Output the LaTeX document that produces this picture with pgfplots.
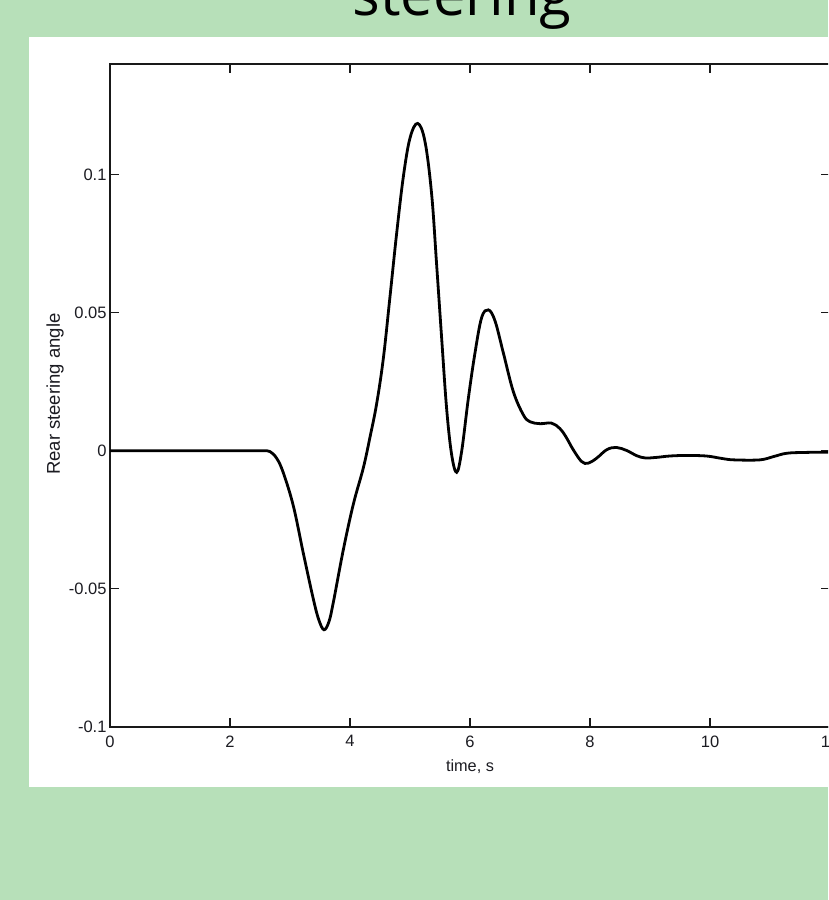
\documentclass[border=0pt]{standalone}
\usepackage{pgfplots}
\pgfplotsset{compat=1.18}
\usepackage{fontspec}
\setmainfont{Liberation Sans}
\newfontfamily\titlefont{Open Sans}
\definecolor{slidegreen}{HTML}{B7E0B9}
\definecolor{ticktext}{HTML}{1C1C22}
\pgfplotstableread{
x y
0 0
1 0
2 0
2.4 0
2.556 0
2.667 -0.0003
2.78 -0.0028
2.889 -0.0080
3.056 -0.0200
3.222 -0.0371
3.389 -0.0537
3.48 -0.0612
3.567 -0.0648
3.65 -0.0618
3.722 -0.0549
3.889 -0.0358
4.056 -0.0193
4.222 -0.0062
4.333 0.0049
4.444 0.0170
4.556 0.0335
4.667 0.0559
4.778 0.0788
4.889 0.0992
5.0 0.1132
5.128 0.1185
5.25 0.1119
5.361 0.0928
5.444 0.0673
5.528 0.0406
5.611 0.0151
5.694 -0.0014
5.778 -0.0078
5.861 -0.0002
5.972 0.0189
6.083 0.0354
6.194 0.0482
6.306 0.0510
6.417 0.0470
6.556 0.0354
6.722 0.0214
6.889 0.0130
7.0 0.0105
7.17 0.0098
7.36 0.0100
7.5 0.0080
7.6 0.0050
7.72 0.0004
7.86 -0.0039
7.97 -0.0045
8.11 -0.0027
8.28 0.0004
8.44 0.0012
8.61 0.0001
8.78 -0.0018
8.92 -0.0026
9.11 -0.0024
9.33 -0.0019
9.61 -0.0017
9.94 -0.0019
10.2 -0.0028
10.4 -0.0033
10.83 -0.0033
11.06 -0.0021
11.28 -0.0009
11.6 -0.0006
12 -0.0005
}\steerdata
\begin{document}
\begin{tikzpicture}
\useasboundingbox (0pt,0pt) rectangle (828pt,-900pt);
\clip (0pt,0pt) rectangle (828pt,-900pt);
\fill[slidegreen] (0pt,0pt) rectangle (828pt,-900pt);
\fill[white] (29pt,-37pt) rectangle (828pt,-787pt);
\node[anchor=base, font=\titlefont\fontsize{58pt}{62pt}\selectfont, text=black, inner sep=0pt] at (462pt,-15pt) {steering};
\begin{axis}[
  at={(110pt,-727pt)}, anchor=south west,
  scale only axis, width=720pt, height=663pt,
  xmin=0, xmax=12, ymin=-0.1, ymax=0.14,
  xtick={0,2,4,6,8,10,12},
  xticklabels={0,2,4,6,8,10,12},
  ytick={-0.1,-0.05,0,0.05,0.1},
  yticklabels={-0.1,-0.05,0,0.05,0.1},
  tick align=inside,
  major tick length=9pt,
  axis line style={line width=1.3pt, draw=black!90},
  every tick/.style={line width=1.1pt, black!90},
  ticklabel style={font=\fontsize{16.5pt}{18pt}\selectfont, text=ticktext},
  xticklabel style={yshift=-5pt},
  xlabel={time, s},
  ylabel={Rear steering angle},
  xlabel style={at={(axis description cs:0.5,0)}, anchor=north, yshift=-29pt, font=\fontsize{16.3pt}{18pt}\selectfont, text=ticktext},
  ylabel style={at={(axis description cs:-0.0764,0.502)}, anchor=center, font=\fontsize{18.5pt}{20pt}\selectfont, text=ticktext},
  clip=false,
]
\addplot[black, line width=2.8pt, smooth, tension=0.6] table[x=x, y=y] {\steerdata};
\end{axis}
\end{tikzpicture}
\end{document}
